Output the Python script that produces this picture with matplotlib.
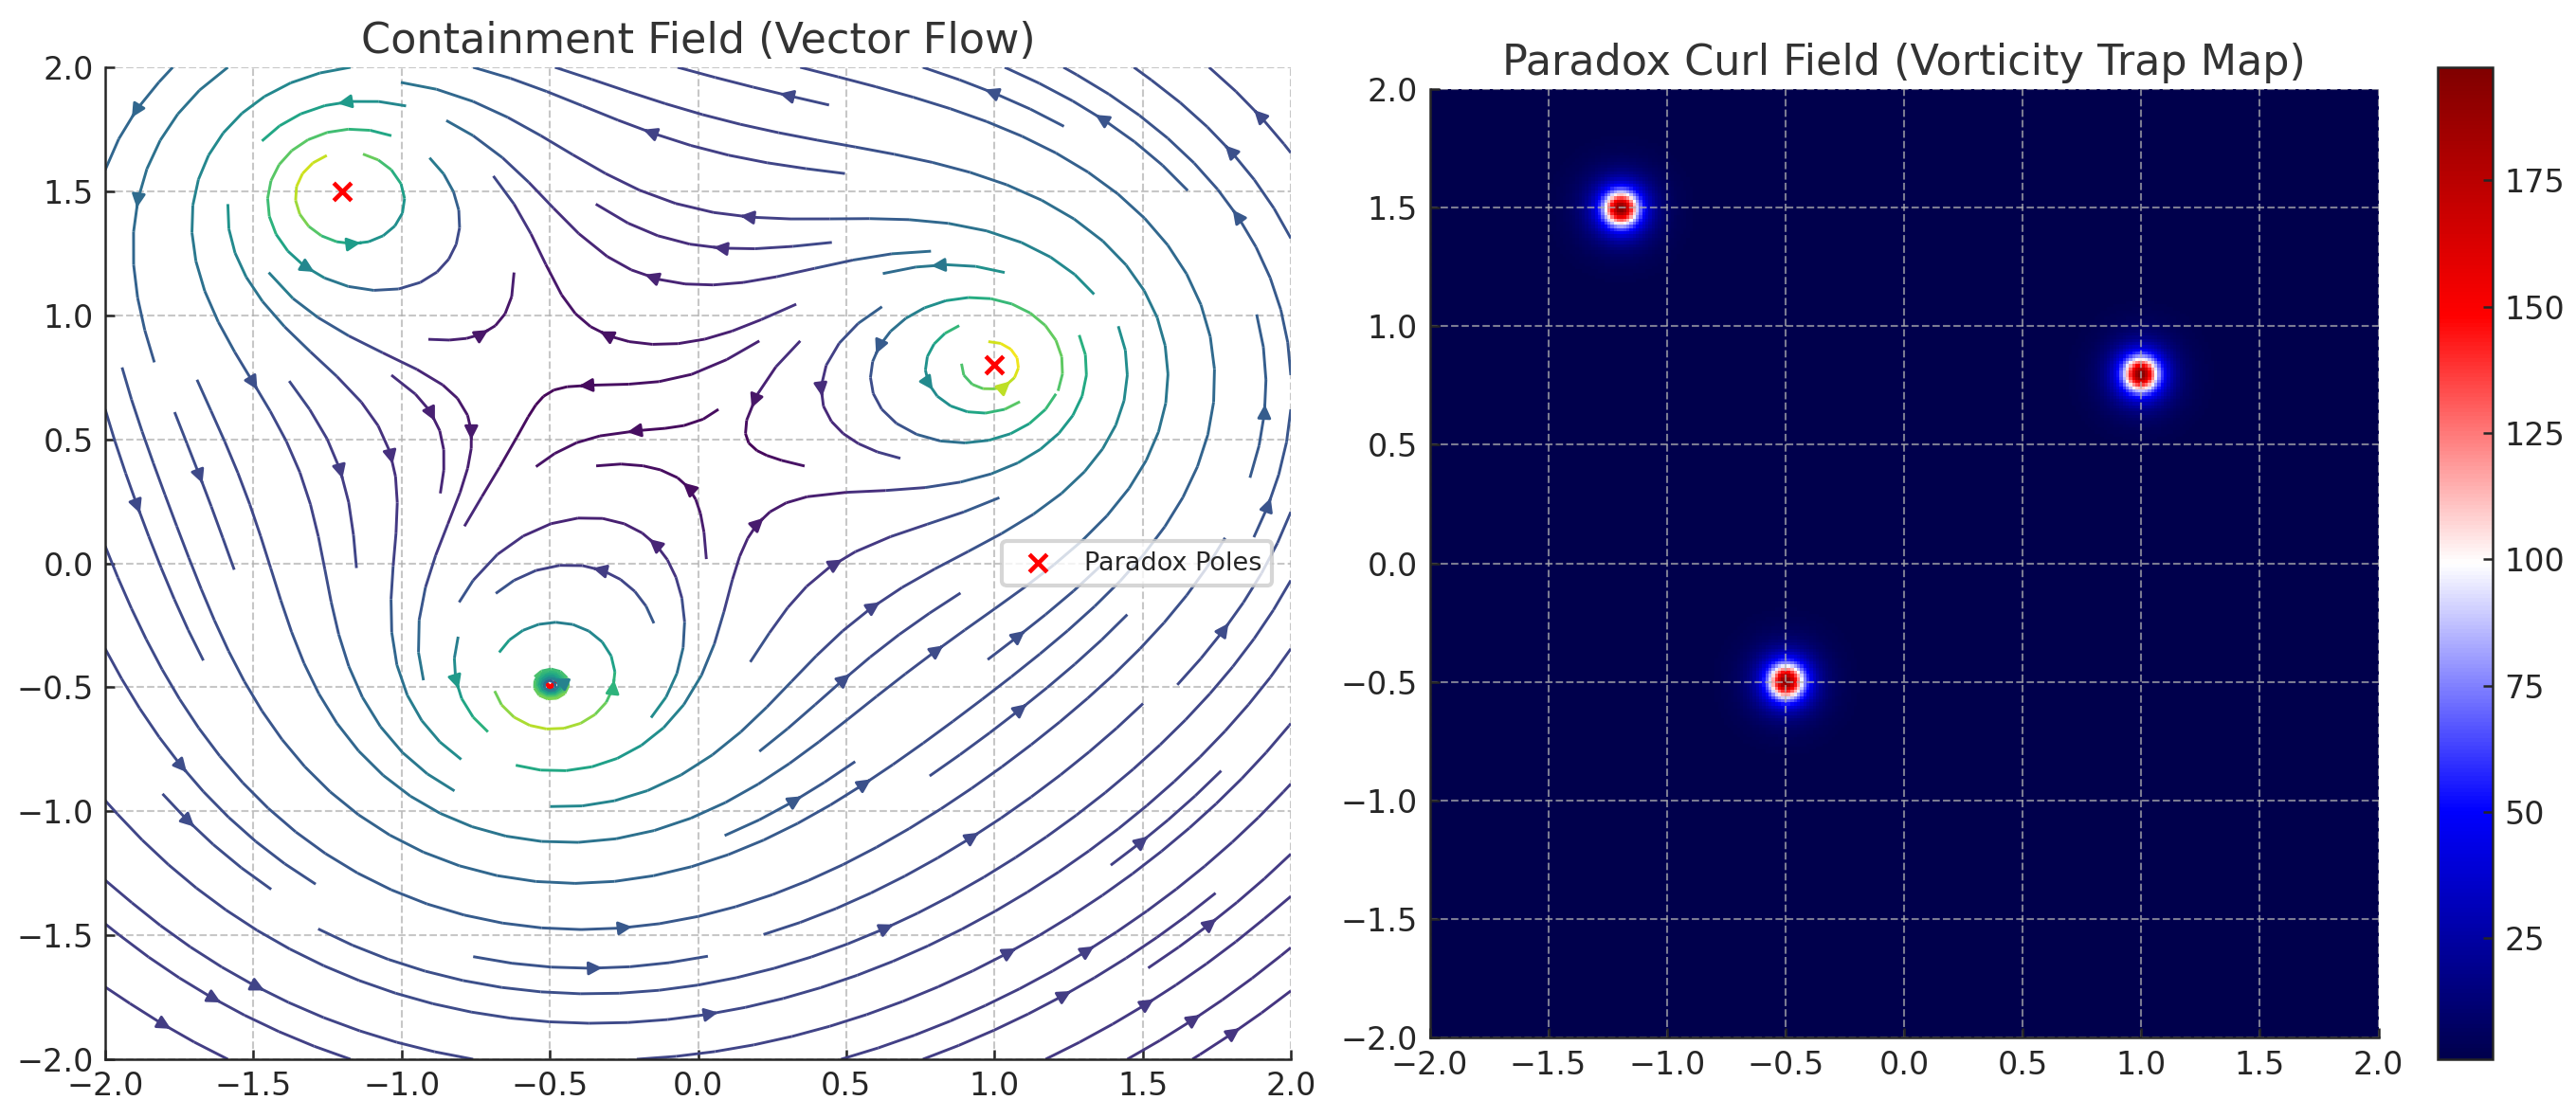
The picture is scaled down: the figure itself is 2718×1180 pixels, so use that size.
import numpy as np
import matplotlib
matplotlib.use('Agg')
import matplotlib.pyplot as plt

# pole positions
pole_x = [-1.2, 1.0, -0.5]
pole_y = [1.5, 0.8, -0.5]
softening = 0.01
ticks = [-2.0, -1.5, -1.0, -0.5, 0.0, 0.5, 1.0, 1.5, 2.0]
cbar_ticks = [25, 50, 75, 100, 125, 150, 175]
curl_min, curl_max = 1.0, 197.4
text_color = '#262626'
title_color = '#333333'

W, H = 2718, 1180


def vortex_field(X, Y):
    U = np.zeros_like(X)
    V = np.zeros_like(X)
    for px, py in zip(pole_x, pole_y):
        dx = X - px
        dy = Y - py
        r2 = dx**2 + dy**2 + softening
        U += -dy / r2
        V += dx / r2
    return U, V


def add_axes(x0, y0, x1, y1):
    return fig.add_axes([x0 / W, 1 - y1 / H, (x1 - x0) / W, (y1 - y0) / H])


def style_axes(ax, title):
    ax.set_xlim(-2, 2)
    ax.set_ylim(-2, 2)
    ax.set_xticks(ticks)
    ax.set_yticks(ticks)
    ax.tick_params(labelsize=8, direction='in', length=2.4, width=0.6, pad=3,
                   colors=text_color)
    ax.grid(True, ls='--', lw=0.5, color='#b0b0b0', alpha=0.7)
    ax.set_title(title, fontsize=10.7, color=title_color, pad=3.5)
    ax.spines['top'].set_visible(False)
    ax.spines['right'].set_visible(False)
    ax.spines['left'].set_linewidth(0.6)
    ax.spines['bottom'].set_linewidth(0.6)
    ax.spines['left'].set_color(text_color)
    ax.spines['bottom'].set_color(text_color)


fig = plt.figure(figsize=(W / 300, H / 300), dpi=300)

x = np.linspace(-2, 2, 300)
X, Y = np.meshgrid(x, x)
U, V = vortex_field(X, Y)
speed = np.sqrt(U**2 + V**2)
curl = np.gradient(V, x, axis=1) - np.gradient(U, x, axis=0)

# left panel: stream lines, poles sit under them
ax1 = add_axes(111, 71, 1362, 1118)
ax1.streamplot(X, Y, U, V, color=speed, cmap='viridis', density=1,
               linewidth=0.7, arrowsize=0.7)
ax1.scatter(pole_x, pole_y, c='red', marker='x', s=20, linewidths=1.1,
            label='Paradox Poles')
style_axes(ax1, 'Containment Field (Vector Flow)')
ax1.set_axisbelow(True)
ax1.legend(loc='center right', fontsize=6.5, bbox_to_anchor=(0.995, 0.5),
           labelcolor=text_color)

# right panel: curl map
ax2 = add_axes(1508, 94, 2510, 1095)
im = ax2.imshow(curl, extent=[-2, 2, -2, 2], origin='lower', cmap='seismic',
                vmin=curl_min, vmax=curl_max)
style_axes(ax2, 'Paradox Curl Field (Vorticity Trap Map)')

cax = add_axes(2572, 71, 2630, 1118)
cb = fig.colorbar(im, cax=cax)
cb.set_ticks(cbar_ticks)
cb.ax.tick_params(labelsize=8, direction='in', length=2.4, width=0.6, pad=3,
                  colors=text_color)
cb.outline.set_linewidth(0.6)
cb.outline.set_edgecolor(text_color)

fig.savefig('out.png', dpi=300)
